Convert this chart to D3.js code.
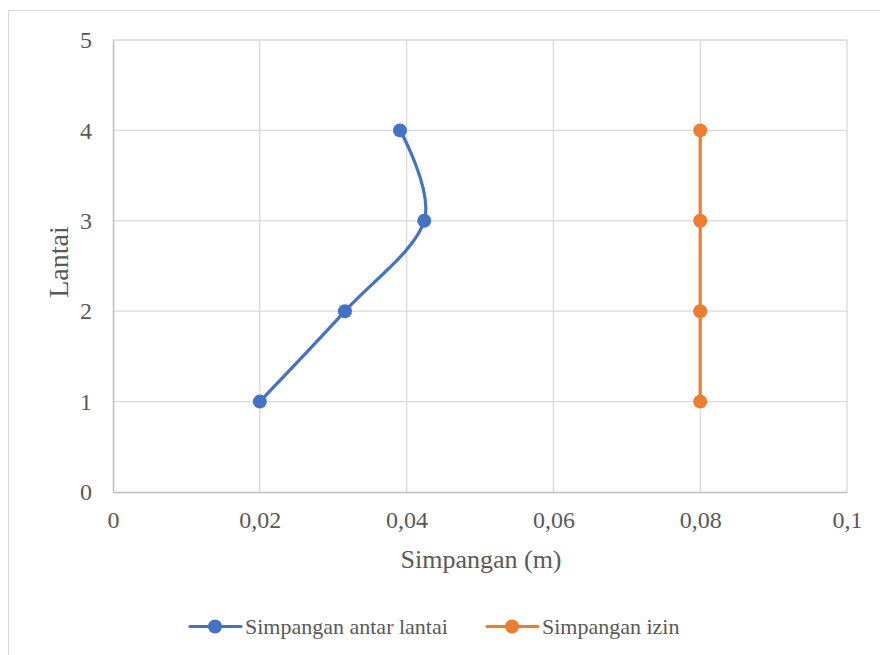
<!DOCTYPE html>
<html><head><meta charset="utf-8">
<script src="https://cdn.jsdelivr.net/npm/d3@7"></script>
<style>body{margin:0;background:#fff}svg{display:block}svg text{font-family:"Liberation Serif","Times New Roman",serif !important}</style>
</head><body><svg id="c" width="880" height="655"></svg>
<script>
const floors = [1, 2, 3, 4];
const simpanganAntarLantai = [0.0200, 0.0316, 0.0424, 0.0391];
const simpanganIzin = [0.08, 0.08, 0.08, 0.08];
const xTicks = [0, 0.02, 0.04, 0.06, 0.08, 0.1];
const xTickLabels = ["0", "0,02", "0,04", "0,06", "0,08", "0,1"];
const yTicks = [0, 1, 2, 3, 4, 5];
const seriesNames = ["Simpangan antar lantai", "Simpangan izin"];
const seriesColors = ["#4472C4", "#ED7D31"];

const svg = d3.select("#c");
const txt = "#595959";
svg.append("rect").attr("x", 8.5).attr("y", 10.5).attr("width", 900).attr("height", 700)
  .attr("fill", "#fff").attr("stroke", "#d9d9d9").attr("stroke-width", 1);

const L = 113, R = 847, T = 40, B = 492;
const x = d3.scaleLinear().domain([0, 0.1]).range([L, R]);
const y = d3.scaleLinear().domain([0, 5]).range([B, T]);

const g = svg.append("g");
g.selectAll(".vg").data(xTicks.slice(1)).join("line")
  .attr("x1", d => x(d)).attr("x2", d => x(d)).attr("y1", T).attr("y2", B)
  .attr("stroke", "#d9d9d9").attr("stroke-width", 1.3);
g.selectAll(".hg").data(yTicks.slice(1)).join("line")
  .attr("x1", L).attr("x2", R).attr("y1", d => y(d)).attr("y2", d => y(d))
  .attr("stroke", "#d9d9d9").attr("stroke-width", 1.3);
const xa = d3.axisBottom(x).tickValues(xTicks).tickFormat((d, i) => xTickLabels[i]).tickSize(0).tickPadding(20);
const ya = d3.axisLeft(y).tickValues(yTicks).tickFormat(d3.format("d")).tickSize(0).tickPadding(21);
const gx = svg.append("g").attr("transform", `translate(0,${B})`).call(xa);
const gy = svg.append("g").attr("transform", `translate(${L},0)`).call(ya);
[gx, gy].forEach(a => {
  a.attr("font-family", null);
  a.select(".domain").attr("stroke", "#bfbfbf").attr("stroke-width", 1.5);
  a.selectAll("text").attr("font-size", 24).attr("fill", txt);
});
gx.selectAll("text").attr("dy", "0.68em");

svg.append("text").attr("x", (L + R) / 2 + 1).attr("y", 568).attr("text-anchor", "middle")
  .attr("font-size", 26).attr("fill", txt).text("Simpangan (m)");
svg.append("text").attr("transform", `translate(68,262) rotate(-90)`).attr("text-anchor", "middle")
  .attr("font-size", 28).attr("fill", txt).text("Lantai");

const s1 = floors.map((f, i) => ({ v: simpanganAntarLantai[i], f }));
const s2 = floors.map((f, i) => ({ v: simpanganIzin[i], f }));
const line1 = d3.line().x(d => x(d.v)).y(d => y(d.f)).curve(d3.curveCatmullRom.alpha(0));
const line2 = d3.line().x(d => x(d.v)).y(d => y(d.f));
[[s1, line1, seriesColors[0]], [s2, line2, seriesColors[1]]].forEach(([data, ln, col]) => {
  svg.append("path").datum(data).attr("d", ln).attr("fill", "none").attr("stroke", col)
    .attr("stroke-width", 3.2).attr("stroke-linecap", "round");
  svg.selectAll(null).data(data).join("circle").attr("cx", d => x(d.v)).attr("cy", d => y(d.f))
    .attr("r", 7).attr("fill", col);
});

const leg = [{ x0: 190, name: seriesNames[0], col: seriesColors[0] }, { x0: 487, name: seriesNames[1], col: seriesColors[1] }];
const ly = 626.5;
leg.forEach(l => {
  svg.append("line").attr("x1", l.x0).attr("x2", l.x0 + 51).attr("y1", ly).attr("y2", ly)
    .attr("stroke", l.col).attr("stroke-width", 3.2).attr("stroke-linecap", "round");
  svg.append("circle").attr("cx", l.x0 + 25).attr("cy", ly).attr("r", 7).attr("fill", l.col);
  svg.append("text").attr("x", l.x0 + 55).attr("y", 634)
    .attr("font-size", 22).attr("fill", txt).text(l.name);
});
</script></body></html>
